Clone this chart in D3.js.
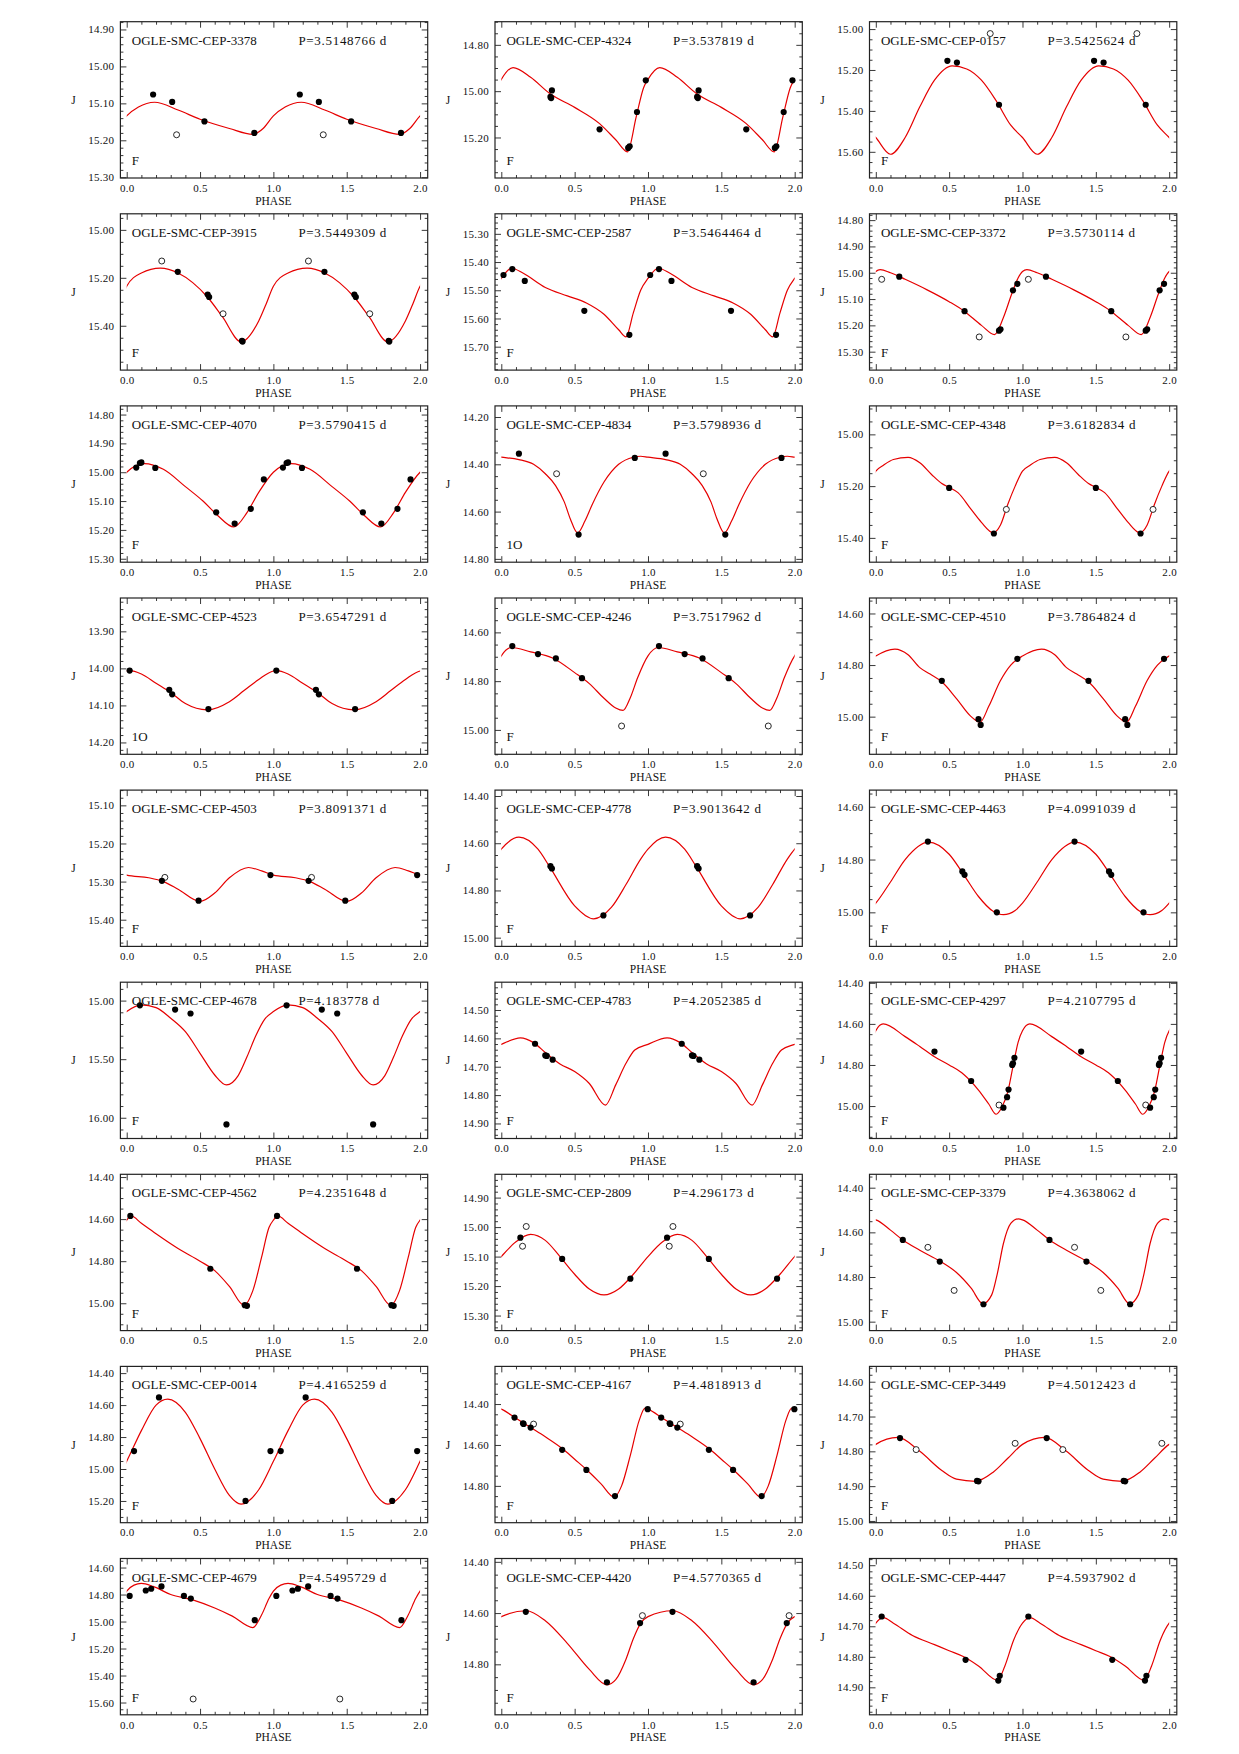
<!DOCTYPE html>
<html>
<head>
<meta charset="utf-8">
<script src="https://cdnjs.cloudflare.com/ajax/libs/d3/7.8.5/d3.min.js"></script>
<style>
body { margin: 0; background: #fff; }
text { font-family: "Liberation Serif", "DejaVu Serif", serif; fill: #111; }
</style>
</head>
<body>
<div id="chart"></div>
<script>
// star ids, periods and pulsation mode label, one per panel (left to right, top to bottom)
const starNames = ["OGLE-SMC-CEP-3378", "OGLE-SMC-CEP-4324", "OGLE-SMC-CEP-0157",
  "OGLE-SMC-CEP-3915", "OGLE-SMC-CEP-2587", "OGLE-SMC-CEP-3372",
  "OGLE-SMC-CEP-4070", "OGLE-SMC-CEP-4834", "OGLE-SMC-CEP-4348",
  "OGLE-SMC-CEP-4523", "OGLE-SMC-CEP-4246", "OGLE-SMC-CEP-4510",
  "OGLE-SMC-CEP-4503", "OGLE-SMC-CEP-4778", "OGLE-SMC-CEP-4463",
  "OGLE-SMC-CEP-4678", "OGLE-SMC-CEP-4783", "OGLE-SMC-CEP-4297",
  "OGLE-SMC-CEP-4562", "OGLE-SMC-CEP-2809", "OGLE-SMC-CEP-3379",
  "OGLE-SMC-CEP-0014", "OGLE-SMC-CEP-4167", "OGLE-SMC-CEP-3449",
  "OGLE-SMC-CEP-4679", "OGLE-SMC-CEP-4420", "OGLE-SMC-CEP-4447"];

const periods = ["3.5148766", "3.537819", "3.5425624",
  "3.5449309", "3.5464464", "3.5730114",
  "3.5790415", "3.5798936", "3.6182834",
  "3.6547291", "3.7517962", "3.7864824",
  "3.8091371", "3.9013642", "4.0991039",
  "4.183778", "4.2052385", "4.2107795",
  "4.2351648", "4.296173", "4.3638062",
  "4.4165259", "4.4818913", "4.5012423",
  "4.5495729", "4.5770365", "4.5937902"];

const modes = ["F", "F", "F", "F", "F", "F", "F", "1O", "F",
  "1O", "F", "F", "F", "F", "F", "F", "F", "F",
  "F", "F", "F", "F", "F", "F", "F", "F", "F"];

// J range shown in each panel [top, bottom] and spacing of labelled ticks
const yDomains = [[14.879, 15.302], [14.70, 15.375], [14.964, 15.728],
  [14.933, 15.585], [15.229, 15.783], [14.776, 15.37],
  [14.77, 15.312], [14.153, 14.814], [14.89, 15.494],
  [13.81, 14.232], [14.459, 15.10], [14.54, 15.146],
  [15.06, 15.47], [14.375, 15.037], [14.537, 15.129],
  [14.843, 16.177], [14.402, 14.953], [14.397, 15.158],
  [14.387, 15.13], [14.821, 15.351], [14.34, 15.04],
  [14.358, 15.336], [14.216, 14.98], [14.556, 15.005],
  [14.533, 15.691], [14.387, 14.997], [14.478, 14.99]];

const yMajorSteps = [0.1, 0.2, 0.2, 0.2, 0.1, 0.1, 0.1, 0.2, 0.2,
  0.1, 0.2, 0.2, 0.1, 0.2, 0.2, 0.5, 0.1, 0.2,
  0.2, 0.1, 0.2, 0.2, 0.2, 0.1, 0.2, 0.2, 0.1];

const xTicks = [0, 0.5, 1, 1.5, 2];

// fitted light curve, one cycle [phase, J]
const curves = [
  [[0,15.134],[0.08,15.11],[0.19,15.097],[0.35,15.118],[0.5,15.143],[0.7,15.168],[0.86,15.184],[0.93,15.168]],
  [[0,14.949],[0.08,14.898],[0.2,14.94],[0.33,15.01],[0.5,15.07],[0.67,15.14],[0.78,15.21],[0.86,15.262],[0.92,15.11],[0.97,14.985]],
  [[0,15.53],[0.1,15.612],[0.2,15.53],[0.3,15.38],[0.4,15.25],[0.52,15.18],[0.62,15.195],[0.72,15.25],[0.82,15.35],[0.92,15.47]],
  [[0,15.235],[0.1,15.18],[0.23,15.16],[0.35,15.18],[0.45,15.22],[0.55,15.28],[0.65,15.36],[0.78,15.467],[0.9,15.38],[0.95,15.31]],
  [[0,15.458],[0.07,15.422],[0.15,15.44],[0.3,15.49],[0.45,15.52],[0.58,15.545],[0.7,15.585],[0.8,15.64],[0.85,15.665],[0.9,15.58],[0.95,15.50]],
  [[0,14.995],[0.03,14.988],[0.1,15.0],[0.2,15.025],[0.35,15.065],[0.5,15.11],[0.6,15.145],[0.72,15.2],[0.81,15.235],[0.87,15.17],[0.93,15.075],[0.97,15.02]],
  [[0,15.0],[0.12,14.97],[0.25,14.99],[0.4,15.05],[0.52,15.1],[0.62,15.15],[0.73,15.19],[0.82,15.14],[0.9,15.07]],
  [[0,14.37],[0.12,14.38],[0.22,14.4],[0.3,14.44],[0.37,14.49],[0.43,14.56],[0.47,14.63],[0.52,14.69],[0.57,14.64],[0.62,14.57],[0.7,14.475],[0.8,14.4],[0.9,14.37],[0.95,14.366]],
  [[0,15.142],[0.05,15.12],[0.12,15.097],[0.22,15.089],[0.3,15.11],[0.38,15.155],[0.45,15.19],[0.5,15.205],[0.56,15.225],[0.65,15.29],[0.72,15.34],[0.8,15.38],[0.85,15.35],[0.9,15.27],[0.95,15.2]],
  [[0,14.007],[0.02,14.006],[0.1,14.015],[0.2,14.04],[0.3,14.065],[0.4,14.095],[0.55,14.112],[0.7,14.09],[0.8,14.06],[0.9,14.03]],
  [[0,14.696],[0.07,14.662],[0.2,14.68],[0.35,14.705],[0.5,14.765],[0.6,14.81],[0.7,14.87],[0.78,14.91],[0.83,14.92],[0.88,14.867],[0.93,14.785]],
  [[0,14.765],[0.13,14.738],[0.22,14.76],[0.3,14.81],[0.37,14.835],[0.45,14.865],[0.55,14.93],[0.65,15.0],[0.71,15.022],[0.77,14.96],[0.85,14.86],[0.92,14.8]],
  [[0,15.283],[0.15,15.29],[0.25,15.3],[0.35,15.32],[0.5,15.352],[0.6,15.33],[0.7,15.29],[0.83,15.263],[0.92,15.272]],
  [[0,14.625],[0.12,14.574],[0.25,14.625],[0.33,14.70],[0.5,14.865],[0.63,14.92],[0.75,14.872],[0.85,14.775],[0.95,14.667]],
  [[0,14.965],[0.1,14.885],[0.2,14.80],[0.36,14.734],[0.5,14.78],[0.6,14.858],[0.7,14.94],[0.8,14.996],[0.87,15.009],[0.95,14.993]],
  [[0,15.094],[0.1,15.037],[0.2,15.06],[0.3,15.15],[0.4,15.265],[0.5,15.45],[0.6,15.635],[0.68,15.72],[0.76,15.64],[0.82,15.48],[0.88,15.3],[0.94,15.16]],
  [[0,14.621],[0.13,14.598],[0.22,14.615],[0.3,14.65],[0.4,14.69],[0.5,14.717],[0.6,14.759],[0.71,14.835],[0.78,14.764],[0.85,14.688],[0.91,14.641]],
  [[0,14.633],[0.05,14.6],[0.2,14.662],[0.3,14.71],[0.4,14.76],[0.5,14.8],[0.6,14.846],[0.7,14.922],[0.77,14.99],[0.82,15.04],[0.86,15.005],[0.9,14.93],[0.94,14.79],[0.97,14.69]],
  [[0,14.605],[0.03,14.585],[0.1,14.62],[0.2,14.67],[0.35,14.74],[0.5,14.8],[0.6,14.845],[0.7,14.92],[0.8,15.01],[0.86,14.94],[0.92,14.78],[0.97,14.64]],
  [[0,15.10],[0.1,15.05],[0.2,15.025],[0.3,15.045],[0.4,15.1],[0.5,15.16],[0.6,15.21],[0.7,15.23],[0.8,15.21],[0.9,15.16]],
  [[0,14.544],[0.1,14.59],[0.184,14.634],[0.3,14.68],[0.44,14.73],[0.55,14.78],[0.65,14.85],[0.73,14.92],[0.79,14.88],[0.83,14.78],[0.87,14.65],[0.92,14.56],[0.97,14.54]],
  [[0,14.952],[0.1,14.76],[0.2,14.60],[0.28,14.563],[0.4,14.645],[0.5,14.81],[0.6,15.0],[0.7,15.165],[0.78,15.22],[0.9,15.13]],
  [[0,14.425],[0.1,14.47],[0.2,14.515],[0.3,14.56],[0.42,14.62],[0.5,14.67],[0.58,14.72],[0.68,14.79],[0.77,14.855],[0.82,14.8],[0.88,14.65],[0.94,14.48],[0.98,14.42]],
  [[0,14.78],[0.15,14.76],[0.3,14.8],[0.45,14.855],[0.55,14.88],[0.68,14.886],[0.8,14.86],[0.9,14.82]],
  [[0,14.775],[0.05,14.73],[0.1,14.718],[0.18,14.74],[0.3,14.8],[0.45,14.84],[0.6,14.9],[0.72,14.96],[0.86,15.045],[0.92,14.95],[0.97,14.83]],
  [[0,14.614],[0.17,14.591],[0.3,14.63],[0.45,14.718],[0.6,14.82],[0.72,14.88],[0.78,14.86],[0.85,14.78],[0.9,14.7],[0.95,14.64]],
  [[0,14.69],[0.05,14.672],[0.12,14.69],[0.25,14.73],[0.4,14.76],[0.5,14.78],[0.6,14.8],[0.7,14.83],[0.83,14.877],[0.88,14.83],[0.94,14.745]]
];

// observations [phase, J]: filled and open symbols
const filledPts = [
  [[0.18,15.076],[0.31,15.096],[0.53,15.149],[0.87,15.18]],
  [[0.335,15.025],[0.34,15.03],[0.345,14.997],[0.67,15.165],[0.865,15.245],[0.875,15.238],[0.925,15.09],[0.985,14.953]],
  [[0.488,15.155],[0.553,15.164],[0.84,15.37]],
  [[0.348,15.175],[0.552,15.27],[0.562,15.28],[0.786,15.463],[0.79,15.466]],
  [[0.015,15.446],[0.075,15.425],[0.16,15.467],[0.566,15.573],[0.873,15.658]],
  [[0.16,15.015],[0.605,15.146],[0.84,15.22],[0.85,15.215],[0.935,15.067],[0.965,15.042]],
  [[0.065,14.984],[0.09,14.968],[0.1,14.966],[0.195,14.985],[0.61,15.139],[0.736,15.178],[0.846,15.127],[0.935,15.025]],
  [[0.12,14.355],[0.527,14.697],[0.91,14.373]],
  [[0.5,15.207],[0.805,15.383]],
  [[0.02,14.006],[0.29,14.058],[0.31,14.07],[0.557,14.11]],
  [[0.075,14.656],[0.25,14.689],[0.372,14.707],[0.55,14.788]],
  [[0.45,14.861],[0.7,15.01],[0.715,15.032],[0.965,14.776]],
  [[0.24,15.298],[0.49,15.35],[0.98,15.283]],
  [[0.335,14.697],[0.345,14.707],[0.696,14.906]],
  [[0.355,14.732],[0.59,14.845],[0.605,14.858],[0.825,15.0]],
  [[0.09,15.04],[0.33,15.077],[0.435,15.11],[0.68,16.057]],
  [[0.23,14.619],[0.3,14.66],[0.31,14.662],[0.35,14.675]],
  [[0.4,14.735],[0.65,14.878],[0.87,15.008],[0.895,14.957],[0.905,14.92],[0.93,14.80],[0.935,14.792],[0.945,14.765]],
  [[0.025,14.585],[0.57,14.836],[0.805,15.009],[0.82,15.012]],
  [[0.13,15.036],[0.415,15.108],[0.88,15.175]],
  [[0.184,14.634],[0.436,14.731],[0.734,14.922]],
  [[0.05,14.888],[0.22,14.552],[0.81,15.20],[0.98,14.888]],
  [[0.09,14.466],[0.148,14.494],[0.152,14.497],[0.2,14.515],[0.415,14.624],[0.58,14.722],[0.775,14.85],[0.998,14.425]],
  [[0.165,14.762],[0.69,14.885],[0.7,14.886]],
  [[0.02,14.81],[0.13,14.77],[0.167,14.757],[0.237,14.74],[0.39,14.81],[0.437,14.83],[0.873,14.99]],
  [[0.167,14.595],[0.72,14.87],[0.946,14.639]],
  [[0.04,14.668],[0.612,14.81],[0.835,14.878],[0.845,14.862]]
];

const openPts = [
  [[0.34,15.185]], [], [[0.78,15.022]],
  [[0.239,15.13],[0.657,15.35]], [], [[0.04,15.025],[0.705,15.244]],
  [], [[0.377,14.44]], [[0.89,15.29]],
  [], [[0.82,14.984]], [],
  [[0.26,15.289]], [], [],
  [], [], [[0.84,14.995]],
  [], [[0.17,14.998],[0.145,15.065]], [[0.355,14.667],[0.534,14.86]],
  [], [[0.22,14.498]], [[0.275,14.795],[0.95,14.777]],
  [[0.453,15.574]], [[0.962,14.61]], []
];

// layout
const WIDTH = 1239, HEIGHT = 1754;
const COL_X = [120.4, 495, 869.5];
const ROW_Y0 = 21.7, ROW_PITCH = 192.1;
const PANEL_W = 307.3, PANEL_H = 156.3;
const X_DOMAIN = [-0.043, 2.052];
const RED = "#e60000";

const svg = d3.select("#chart").append("svg")
    .attr("width", WIDTH)
    .attr("height", HEIGHT);

// multiples of step inside [lo, hi]
function multiples(lo, hi, step) {
  const out = [];
  for (let k = Math.ceil(lo / step - 1e-6); k <= Math.floor(hi / step + 1e-6); k++) {
    out.push(+(k * step).toFixed(4));
  }
  return out;
}
function notOn(vals, step) {
  return vals.filter(v => Math.abs(v / step - Math.round(v / step)) > 1e-6);
}

starNames.forEach((name, i) => {
  const left = COL_X[i % 3];
  const top = ROW_Y0 + Math.floor(i / 3) * ROW_PITCH;
  const g = svg.append("g").attr("transform", "translate(" + left + "," + top + ")");

  const x = d3.scaleLinear().domain(X_DOMAIN).range([0, PANEL_W]);
  const y = d3.scaleLinear().domain(yDomains[i]).range([0, PANEL_H]);

  const step = yMajorSteps[i];
  const minorStep = step === 0.1 ? 0.02 : (step === 0.2 ? 0.05 : 0.1);
  const yMajor = multiples(yDomains[i][0], yDomains[i][1], step);
  const yMinor = notOn(multiples(yDomains[i][0], yDomains[i][1], minorStep), step);
  const xMinor = notOn(multiples(0, 2, 0.1), 0.5);

  // axes with inward ticks
  const axes = [
    [d3.axisBottom(x).tickValues(xTicks).tickFormat(d3.format(".1f")), "translate(0," + PANEL_H + ")", 6, true],
    [d3.axisBottom(x).tickValues(xMinor).tickFormat(""), "translate(0," + PANEL_H + ")", 3, false],
    [d3.axisTop(x).tickValues(xTicks).tickFormat(""), null, 6, false],
    [d3.axisTop(x).tickValues(xMinor).tickFormat(""), null, 3, false],
    [d3.axisLeft(y).tickValues(yMajor).tickFormat(d3.format(".2f")), null, 6, true],
    [d3.axisLeft(y).tickValues(yMinor).tickFormat(""), null, 3, false],
    [d3.axisRight(y).tickValues(yMajor).tickFormat(""), "translate(" + PANEL_W + ",0)", 6, false],
    [d3.axisRight(y).tickValues(yMinor).tickFormat(""), "translate(" + PANEL_W + ",0)", 3, false]
  ];
  axes.forEach(([ax, tr, len, labels]) => {
    const a = g.append("g")
        .attr("transform", tr)
        .call(ax.tickSize(-len).tickPadding(labels ? 6 : 0));
    a.select(".domain").remove();
    a.selectAll("line").attr("stroke", "#222").attr("stroke-width", 0.9);
    a.selectAll("text")
        .attr("fill", "#111")
        .style("font-family", "'Liberation Serif', serif")
        .style("font-size", "11px")
        .style("letter-spacing", "0.3px");
  });

  // frame
  g.append("rect")
      .attr("width", PANEL_W)
      .attr("height", PANEL_H)
      .attr("fill", "none")
      .attr("stroke", "#222")
      .attr("stroke-width", 1.2);

  // fitted curve over two cycles, clipped to phase 0..2
  g.append("clipPath").attr("id", "clip" + i)
    .append("rect")
      .attr("x", x(0))
      .attr("width", x(2) - x(0))
      .attr("height", PANEL_H);

  const pts = [];
  for (let k = -1; k <= 2; k++) {
    curves[i].forEach(d => pts.push([d[0] + k, d[1]]));
  }
  const line = d3.line()
      .x(d => x(d[0]))
      .y(d => y(d[1]))
      .curve(d3.curveMonotoneX);

  g.append("path")
      .datum(pts)
      .attr("clip-path", "url(#clip" + i + ")")
      .attr("d", line)
      .attr("fill", "none")
      .attr("stroke", RED)
      .attr("stroke-width", 1.2);

  // observations shown at phase and phase + 1
  const twice = arr => arr.concat(arr.map(d => [d[0] + 1, d[1]]));

  g.selectAll(".open")
    .data(twice(openPts[i]))
    .enter().append("circle")
      .attr("class", "open")
      .attr("cx", d => x(d[0]))
      .attr("cy", d => y(d[1]))
      .attr("r", 3)
      .attr("fill", "#fff")
      .attr("stroke", "#111")
      .attr("stroke-width", 0.9);

  g.selectAll(".filled")
    .data(twice(filledPts[i]))
    .enter().append("circle")
      .attr("class", "filled")
      .attr("cx", d => x(d[0]))
      .attr("cy", d => y(d[1]))
      .attr("r", 3.1)
      .attr("fill", "#000");

  // labels
  g.append("text")
      .attr("x", 11.4)
      .attr("y", 23)
      .style("font-size", "13px")
      .text(name);
  g.append("text")
      .attr("x", 178)
      .attr("y", 23)
      .style("font-size", "13px")
      .style("letter-spacing", "0.7px")
      .text("P=" + periods[i] + " d");
  g.append("text")
      .attr("x", 11.4)
      .attr("y", PANEL_H - 13)
      .style("font-size", "13px")
      .text(modes[i]);
  g.append("text")
      .attr("x", x(1))
      .attr("y", PANEL_H + 26.6)
      .attr("text-anchor", "middle")
      .style("font-size", "11.5px")
      .text("PHASE");
  g.append("text")
      .attr("x", -47)
      .attr("y", PANEL_H / 2 + 4)
      .attr("text-anchor", "middle")
      .style("font-size", "11.5px")
      .text("J");
});
</script>
</body>
</html>
